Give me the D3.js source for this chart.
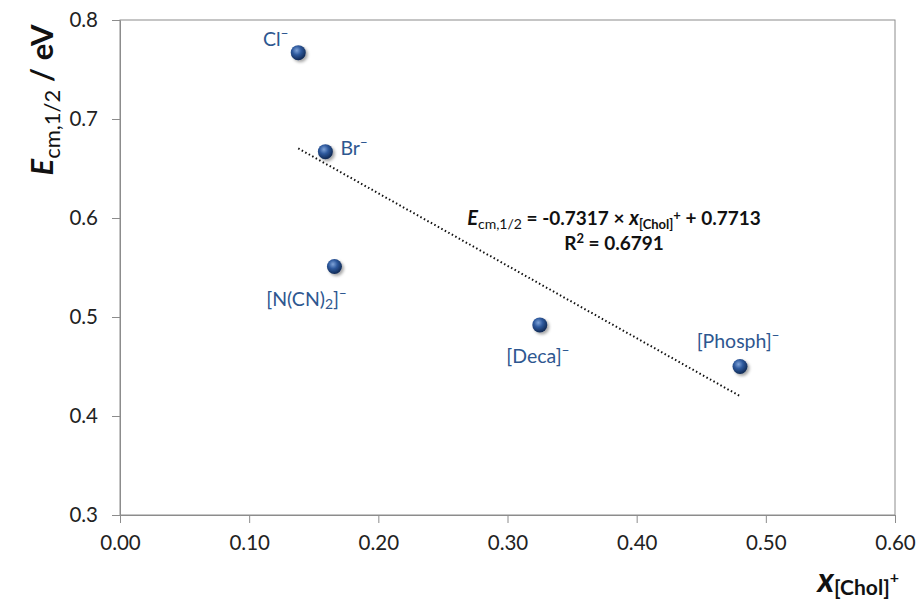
<!DOCTYPE html>
<html>
<head>
<meta charset="utf-8">
<script src="https://cdn.jsdelivr.net/npm/d3@7"></script>
<style>
  body { margin: 0; background: #fff; }
  text { font-family: Lato, "Open Sans", sans-serif; }
</style>
</head>
<body>
<script>
//data
var anions = ["Cl", "Br", "[N(CN)2]", "[Deca]", "[Phosph]"];
var xChol = [0.138, 0.159, 0.166, 0.325, 0.480];
var eHalf = [0.767, 0.667, 0.551, 0.492, 0.450];
var xTicks = [0, 0.1, 0.2, 0.3, 0.4, 0.5, 0.6];
var yTicks = [0.3, 0.4, 0.5, 0.6, 0.7, 0.8];
var slope = -0.7317, intercept = 0.7713, rSquared = 0.6791;

//label placement relative to each marker (layout only)
var labelPos = [
    {dx: -10, dy: -7, anchor: "end"},
    {dx: 15, dy: 3, anchor: "start"},
    {dx: -28, dy: 39, anchor: "middle"},
    {dx: -2, dy: 38, anchor: "middle"},
    {dx: -2, dy: -19, anchor: "middle"}
];

var width = 922, height = 605;
var margin = {left: 120, top: 20, right: 27, bottom: 90};

var svg = d3.select("body").append("svg")
    .attr("width", width)
    .attr("height", height);

var x = d3.scaleLinear().domain([0, 0.6]).range([margin.left, width - margin.right]);
var y = d3.scaleLinear().domain([0.3, 0.8]).range([height - margin.bottom, margin.top]);

var defs = svg.append("defs");
var grad = defs.append("radialGradient")
    .attr("id", "ball")
    .attr("cx", "40%").attr("cy", "35%").attr("r", "65%");
grad.append("stop").attr("offset", "0%").attr("stop-color", "#7fa3d8");
grad.append("stop").attr("offset", "45%").attr("stop-color", "#2f5a9e");
grad.append("stop").attr("offset", "100%").attr("stop-color", "#112a55");
var shadow = defs.append("filter").attr("id", "shadow")
    .attr("x", "-50%").attr("y", "-50%").attr("width", "200%").attr("height", "200%");
shadow.append("feDropShadow")
    .attr("dx", 2).attr("dy", 2).attr("stdDeviation", 1.5)
    .attr("flood-color", "#000").attr("flood-opacity", 0.35);

//plot frame
svg.append("rect")
    .attr("x", x(0)).attr("y", y(0.8))
    .attr("width", x(0.6) - x(0)).attr("height", y(0.3) - y(0.8))
    .attr("fill", "none").attr("stroke", "#8c8c8c").attr("stroke-width", 1);

//axes
var xAxis = d3.axisBottom(x).tickValues(xTicks).tickFormat(d3.format(".2f"))
    .tickSizeInner(8).tickSizeOuter(0).tickPadding(10);
var yAxis = d3.axisLeft(y).tickValues(yTicks).tickFormat(d3.format(".1f"))
    .tickSizeInner(8).tickSizeOuter(0).tickPadding(14);

var gx = svg.append("g").attr("transform", "translate(0," + y(0.3) + ")").call(xAxis);
var gy = svg.append("g").attr("transform", "translate(" + x(0) + ",0)").call(yAxis);
[gx, gy].forEach(function(g) {
    g.selectAll("path").attr("stroke", "#8c8c8c");
    g.selectAll("line").attr("stroke", "#8c8c8c");
    g.selectAll("text").attr("fill", "#222").style("font-size", "20.5px");
});
gx.selectAll("text").attr("dy", "0.85em");

//trend line from fit coefficients over data range
var xr = d3.extent(xChol);
svg.append("line")
    .attr("x1", x(xr[0])).attr("y1", y(slope * xr[0] + intercept))
    .attr("x2", x(xr[1])).attr("y2", y(slope * xr[1] + intercept))
    .attr("stroke", "#111").attr("stroke-width", 2)
    .attr("stroke-dasharray", "1.5,2.5");

//markers
svg.selectAll(".pt")
    .data(anions)
    .enter()
    .append("circle")
    .attr("class", "pt")
    .attr("cx", function(d, i) { return x(xChol[i]); })
    .attr("cy", function(d, i) { return y(eHalf[i]); })
    .attr("r", 7.5)
    .attr("fill", "url(#ball)")
    .attr("filter", "url(#shadow)");

//data labels
var labels = svg.selectAll(".lbl")
    .data(anions)
    .enter()
    .append("text")
    .attr("class", "lbl")
    .attr("x", function(d, i) { return x(xChol[i]) + labelPos[i].dx; })
    .attr("y", function(d, i) { return y(eHalf[i]) + labelPos[i].dy; })
    .attr("text-anchor", function(d, i) { return labelPos[i].anchor; })
    .attr("fill", "#2e5790")
    .style("font-size", "19.5px");

labels.each(function(d) {
    var t = d3.select(this);
    if (d.indexOf("2]") > 0) {
        t.append("tspan").text("[N(CN)");
        t.append("tspan").text("2").attr("dy", 3).style("font-size", "14px");
        t.append("tspan").text("]").attr("dy", -3);
    } else {
        t.append("tspan").text(d);
    }
    t.append("tspan").text("\u2212").attr("dy", -8).style("font-size", "13px");
});

//equation
var eq = svg.append("text")
    .attr("x", 614).attr("y", 225)
    .attr("text-anchor", "middle")
    .attr("fill", "#111")
    .style("font-size", "19px").style("font-weight", "bold");
eq.append("tspan").text("E").style("font-style", "italic").style("font-size", "20px");
eq.append("tspan").text("cm,1/2").attr("dy", 4).style("font-size", "14px").style("font-weight", "normal");
eq.append("tspan").text(" = " + slope + " \u00d7 ").attr("dy", -4);
eq.append("tspan").text("x").style("font-style", "italic").style("font-size", "20px");
eq.append("tspan").text("[Chol]").attr("dy", 4).style("font-size", "13px");
eq.append("tspan").text("+").attr("dy", -9).style("font-size", "13px");
eq.append("tspan").text(" + " + intercept).attr("dy", 5);

var r2 = svg.append("text")
    .attr("x", 614).attr("y", 250)
    .attr("text-anchor", "middle")
    .attr("fill", "#111")
    .style("font-size", "19px").style("font-weight", "bold");
r2.append("tspan").text("R");
r2.append("tspan").text("2").attr("dy", -7).style("font-size", "13px");
r2.append("tspan").text(" = " + rSquared).attr("dy", 7);

//y axis title
var yt = svg.append("text")
    .attr("transform", "translate(53," + 100 + ") rotate(-90)")
    .attr("text-anchor", "middle")
    .attr("fill", "#111")
    .style("font-size", "31px").style("font-weight", "bold");
yt.append("tspan").text("E").style("font-style", "italic");
yt.append("tspan").text("cm,1/2").attr("dy", 7).style("font-size", "22px").style("font-weight", "normal");
yt.append("tspan").text(" / eV").attr("dy", -7);

//x axis title
var xt = svg.append("text")
    .attr("x", 899).attr("y", 592)
    .attr("text-anchor", "end")
    .attr("fill", "#111")
    .style("font-weight", "bold");
xt.append("tspan").text("x").style("font-style", "italic").style("font-size", "34px");
xt.append("tspan").text("[Chol]").attr("dy", 3).style("font-size", "21px");
xt.append("tspan").text("+").attr("dy", -12).style("font-size", "16px");
</script>
</body>
</html>
